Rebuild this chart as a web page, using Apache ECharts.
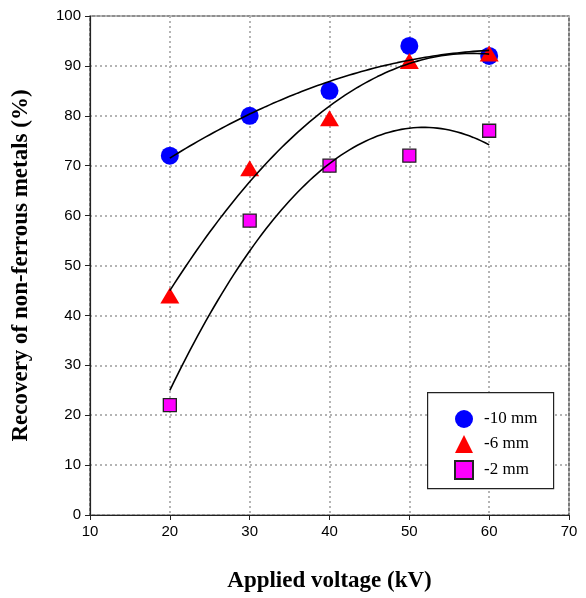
<!DOCTYPE html>
<html>
<head>
<meta charset="utf-8">
<script src="https://cdn.jsdelivr.net/npm/echarts@6/dist/echarts.min.js"></script>
<style>
  html, body { margin: 0; padding: 0; background: #fff; }
  #chart { width: 586px; height: 598px; }
</style>
</head>
<body>
<div id="chart"></div>
<script>
// Applied voltage (kV) and recovery (%) for each particle size
const voltage = [20, 30, 40, 50, 60];
const rec10mm = [72, 80, 85, 94, 92];
const rec6mm = [44, 69.5, 79.5, 91, 92.5];
const rec2mm = [22, 59, 70, 72, 77];
const seriesNames = ['-10 mm', '-6 mm', '-2 mm'];

// Second-order least-squares trend line through the measured points
function quadFit(xs, ys) {
  const n = xs.length;
  let s = [0, 0, 0, 0, 0], t = [0, 0, 0];
  for (let i = 0; i < n; i++) {
    let p = 1;
    for (let k = 0; k < 5; k++) { s[k] += p; if (k < 3) t[k] += p * ys[i]; p *= xs[i]; }
  }
  // Solve normal equations [s0 s1 s2; s1 s2 s3; s2 s3 s4] c = t
  const A = [[s[0], s[1], s[2], t[0]], [s[1], s[2], s[3], t[1]], [s[2], s[3], s[4], t[2]]];
  for (let c = 0; c < 3; c++) {
    for (let r = c + 1; r < 3; r++) {
      const f = A[r][c] / A[c][c];
      for (let k = c; k < 4; k++) A[r][k] -= f * A[c][k];
    }
  }
  const coef = [0, 0, 0];
  for (let r = 2; r >= 0; r--) {
    let v = A[r][3];
    for (let k = r + 1; k < 3; k++) v -= A[r][k] * coef[k];
    coef[r] = v / A[r][r];
  }
  return coef;
}
function trendLine(xs, ys) {
  const c = quadFit(xs, ys);
  const out = [];
  const x0 = xs[0], x1 = xs[xs.length - 1];
  for (let x = x0; x <= x1 + 1e-9; x += 0.5) out.push([x, c[0] + c[1] * x + c[2] * x * x]);
  return out;
}
const pairs = ys => voltage.map((x, i) => [x, ys[i]]);

const chart = echarts.init(document.getElementById('chart'), null, { renderer: 'canvas' });
const tickFont = { fontFamily: 'Liberation Sans, Arial, sans-serif', fontSize: 15, color: '#000' };
const dotted = { show: true, lineStyle: { type: [2, 3], color: '#b4b4b4', width: 2 } };
const titleFont = { fontFamily: 'Liberation Serif, Times New Roman, serif', fontWeight: 'bold', fontSize: 23, color: '#000' };

const trendStyle = { color: '#000', width: 1.6 };
function trendSeries(ys) {
  return {
    type: 'line', data: trendLine(voltage, ys), showSymbol: false, symbol: 'none',
    lineStyle: trendStyle, z: 5, silent: true, animation: false
  };
}

chart.setOption({
  animation: false,
  backgroundColor: '#fff',
  grid: {
    left: 90, right: 17, top: 16, bottom: 82,
    show: true, borderColor: '#222', borderWidth: 1.2, backgroundColor: 'transparent'
  },
  xAxis: {
    type: 'value', min: 10, max: 70, interval: 10,
    axisLine: { show: true, lineStyle: { color: '#222', width: 1.2 } },
    axisTick: { show: true, length: 5, lineStyle: { color: '#222' } },
    axisLabel: Object.assign({ margin: 9 }, tickFont),
    splitLine: dotted,
    name: 'Applied voltage (kV)', nameLocation: 'middle', nameGap: 55,
    nameTextStyle: titleFont
  },
  yAxis: {
    type: 'value', min: 0, max: 100, interval: 10,
    axisLine: { show: true, lineStyle: { color: '#222', width: 1.2 } },
    axisTick: { show: true, length: 5, lineStyle: { color: '#222' } },
    axisLabel: Object.assign({ margin: 9 }, tickFont),
    splitLine: dotted,
    name: 'Recovery of non-ferrous metals (%)', nameLocation: 'middle', nameGap: 57,
    nameTextStyle: titleFont
  },
  graphic: [{
    type: 'rect', left: 427, top: 392, z: 10,
    shape: { width: 126, height: 96 },
    style: { fill: '#fff', stroke: '#222', lineWidth: 1.2 }
  }],
  legend: {
    left: 449, top: 405, orient: 'vertical', itemGap: 7, z: 20,
    itemWidth: 18, itemHeight: 18,
    data: seriesNames,
    textStyle: { fontFamily: 'Liberation Serif, Times New Roman, serif', fontSize: 17, color: '#000', padding: [0, 0, 0, 6] }
  },
  series: [
    {
      name: seriesNames[0], type: 'scatter', data: pairs(rec10mm),
      symbol: 'circle', symbolSize: 18, itemStyle: { color: '#0000ff', opacity: 1 }, z: 2
    },
    {
      name: seriesNames[1], type: 'scatter', data: pairs(rec6mm),
      symbol: 'triangle', symbolSize: [19, 16], itemStyle: { color: '#ff0000', opacity: 1 }, z: 3
    },
    {
      name: seriesNames[2], type: 'scatter', data: pairs(rec2mm),
      symbol: 'rect', symbolSize: 13, itemStyle: { color: '#ff00ff', borderColor: '#222', borderWidth: 1.3, opacity: 1 }, z: 4
    },
    trendSeries(rec10mm),
    trendSeries(rec6mm),
    trendSeries(rec2mm)
  ]
});
</script>
</body>
</html>
